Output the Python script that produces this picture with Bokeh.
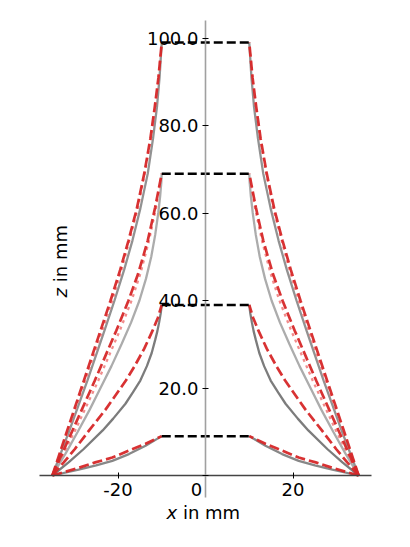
import math
from bokeh.plotting import figure
from bokeh.models import LinearAxis, Range1d, FixedTicker, Label, PrintfTickFormatter
from bokeh.embed import file_html
from bokeh.resources import INLINE

# ---- data (left half; right half is the mirror image) ----
top_heights = [9, 39, 69, 99]
top_half_width = 10

g9_z = [0, 1.35, 2.3, 3.35, 4.9, 6.8, 9]
g9_x = [-35, -29, -25, -21.3, -17.5, -13.7, -10]
r9_z = [0, 1.75, 3.0, 4.1, 5.7, 7.24, 9]
r9_x = [-35, -29, -25.2, -21.3, -17.5, -13.7, -10]

g39_z = [0, 3, 6, 10.3, 13, 16.4, 19, 21.7, 25, 28, 31, 33, 35, 37, 39]
g39_x = [-35, -31.3, -27.9, -23.5, -21.1, -18.3, -16.6, -14.9, -13.4, -12.3, -11.5, -11.0, -10.6, -10.25, -10]
r39_z = [0, 3, 6, 10.3, 15, 20, 21.7, 25, 29, 33.1, 36, 39]
r39_x = [-35, -32.4, -29.9, -26.6, -22.9, -19.4, -18.2, -16.2, -14.0, -12.1, -10.9, -10]

g69_z = [0, 5, 10, 15, 20, 25, 30, 35, 40, 45, 50, 55, 60, 64, 67, 69]
g69_x = [-35, -32.0, -29.2, -26.5, -24.0, -21.5, -19.2, -17.0, -15.1, -13.6, -12.4, -11.5, -10.8, -10.35, -10.1, -10]
r69_z = [0, 10.3, 21.7, 33.1, 40, 46.1, 53.7, 61.3, 69]
r69_x = [-35, -30.4, -25.3, -20.4, -17.6, -15.4, -13.2, -11.5, -10]
p69_z = [0, 10.3, 21.7, 33.1, 40, 46.1, 53.7, 61.3, 69]
p69_x = [-35, -29.8, -24.5, -19.6, -16.9, -14.9, -12.9, -11.3, -10]

g99_z = [0, 10.3, 21.7, 33.1, 40, 47, 53.7, 61, 69, 77, 84.2, 91, 99]
g99_x = [-35, -31.1, -27.0, -23.1, -20.8, -18.6, -16.7, -14.9, -13.2, -12.0, -11.1, -10.5, -10]
r99_z = [0, 10.3, 21.7, 33.1, 40, 47, 53.7, 61, 69, 77, 84.2, 91, 99]
r99_x = [-35, -31.6, -27.8, -24.0, -21.7, -19.5, -17.6, -15.7, -14.0, -12.6, -11.6, -10.75, -10]
p99_z = [0, 10.3, 21.7, 33.1, 40, 47, 53.7, 61, 69, 77, 84.2, 91, 99]
p99_x = [-35, -31.4, -27.5, -23.6, -21.3, -19.2, -17.4, -15.5, -13.9, -12.5, -11.5, -10.7, -10]

x_ticks = [-20, 0, 20]
z_ticks = [0, 20, 40, 60, 80, 100]

FONT = "DejaVu Sans"
FS = "18px"

# frame fills the whole figure; axes are bounded to the drawing area
p = figure(width=394, height=531,
           x_range=Range1d(-205 / 4.375, 189 / 4.375),
           y_range=Range1d(-56 / 4.375, 475 / 4.375),
           output_backend="svg", toolbar_location=None,
           x_axis_location=None, y_axis_location=None,
           min_border_left=0, min_border_right=0,
           min_border_top=0, min_border_bottom=0)
p.grid.visible = False
p.outline_line_color = None
p.background_fill_color = "white"
p.border_fill_color = "white"


def mirror(xs):
    return [-v for v in xs]


def both(xs, zs, **kw):
    p.line(xs, zs, **kw)
    p.line(mirror(xs), zs, **kw)


GW = 2.3
both(g9_x, g9_z, line_color="#7a7a7a", line_width=GW, line_alpha=0.9)
both(g39_x, g39_z, line_color="#6e6e6e", line_width=GW, line_alpha=0.9)
both(g69_x, g69_z, line_color="#a3a3a3", line_width=GW, line_alpha=0.9)
both(g99_x, g99_z, line_color="#868686", line_width=GW, line_alpha=0.9)

PINK = "#f08080"
both(p69_x, p69_z, line_color=PINK, line_width=2.3, line_dash="3 4", line_alpha=0.9)
both(p99_x, p99_z, line_color=PINK, line_width=2.3, line_dash="3 4", line_alpha=0.9)

RED = "#d62728"
for xs, zs in [(r9_x, r9_z), (r39_x, r39_z), (r69_x, r69_z), (r99_x, r99_z)]:
    both(xs, zs, line_color=RED, line_width=2.7, line_dash="10 4", line_alpha=0.95)

for h in top_heights:
    p.line([-top_half_width, top_half_width], [h, h], line_color="black",
           line_width=2.5, line_dash="9 4")

# axes through the origin
xaxis = LinearAxis(fixed_location=0, ticker=FixedTicker(ticks=x_ticks),
                   bounds=(-38, 38))
xaxis.major_label_overrides = {-20: "-20", 0: "", 20: "20"}
yaxis = LinearAxis(fixed_location=0, ticker=FixedTicker(ticks=z_ticks),
                   formatter=PrintfTickFormatter(format="%.1f"),
                   bounds=(-5, 104))
yaxis.major_label_overrides = {0: ""}
for ax, col, w in [(xaxis, "#444444", 1.3), (yaxis, "#a0a0a0", 1.6)]:
    ax.axis_line_color = col
    ax.axis_line_width = w
    ax.major_tick_line_color = "black"
    ax.major_tick_line_width = 1
    ax.major_tick_in = 3
    ax.major_tick_out = 3
    ax.minor_tick_line_color = None
    ax.major_label_text_font = FONT
    ax.major_label_text_font_size = FS
    ax.major_label_text_color = "black"
    ax.major_label_standoff = 4
p.add_layout(xaxis, "below")
p.add_layout(yaxis, "left")

# "0" tick label, shifted off the vertical axis
p.add_layout(Label(x=0, y=0, text="0", x_offset=-9, y_offset=-7,
                   text_align="center", text_baseline="top",
                   text_font=FONT, text_font_size=FS, text_color="black"))

# axis titles with italic variable names
p.add_layout(Label(x=0, y=0, text="x", x_offset=-39, y_offset=-37,
                   text_align="left", text_baseline="alphabetic",
                   text_font=FONT, text_font_style="italic",
                   text_font_size=FS, text_color="black"))
p.add_layout(Label(x=0, y=0, text="in mm", x_offset=-22.6, y_offset=-37,
                   text_align="left", text_baseline="alphabetic",
                   text_font=FONT, text_font_size=FS, text_color="black"))
p.add_layout(Label(x=-38, y=40.7, text="z", x_offset=21, angle=math.pi / 2,
                   text_align="left", text_baseline="alphabetic",
                   text_font=FONT, text_font_style="italic",
                   text_font_size=FS, text_color="black"))
p.add_layout(Label(x=-38, y=40.7, text="in mm", x_offset=21, y_offset=15.2,
                   angle=math.pi / 2,
                   text_align="left", text_baseline="alphabetic",
                   text_font=FONT, text_font_size=FS, text_color="black"))

open("out.html", "w").write(file_html(p, INLINE))
